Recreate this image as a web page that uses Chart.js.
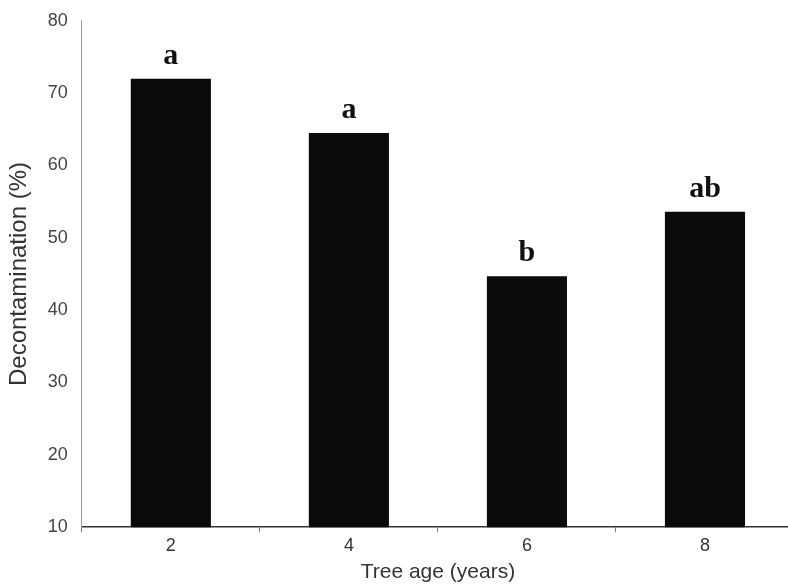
<!DOCTYPE html>
<html>
<head>
<meta charset="utf-8">
<script src="https://cdn.jsdelivr.net/npm/chart.js@4.4.0/dist/chart.umd.min.js"></script>
<style>
  html, body { margin: 0; padding: 0; background: #fff; overflow: hidden; }
  #wrap { width: 794px; height: 592px; position: relative; top: -4px; }
</style>
</head>
<body>
<div id="wrap"><canvas id="myChart" width="794" height="592"></canvas></div>
<script>
var treeAges = ['2', '4', '6', '8'];
var decontamination = [72, 64.5, 44.7, 53.6];
var letters = ['a', 'a', 'b', 'ab'];
var yTicks = [10, 20, 30, 40, 50, 60, 70, 80];

// draws the significance letters above each bar
var letterPlugin = {
    id: 'letters',
    afterDatasetsDraw: function (chart) {
        var ctx = chart.ctx;
        var meta = chart.getDatasetMeta(0);
        ctx.save();
        ctx.font = 'bold 30px "Liberation Serif", "Times New Roman", serif';
        ctx.fillStyle = '#111';
        ctx.textAlign = 'center';
        ctx.textBaseline = 'alphabetic';
        meta.data.forEach(function (bar, i) {
            ctx.fillText(letters[i], bar.x, bar.y - 15);
        });
        ctx.restore();
    }
};

var ctx = document.getElementById('myChart').getContext('2d');
var myChart = new Chart(ctx, {
    type: 'bar',
    data: {
        labels: treeAges,
        datasets: [{
            data: decontamination,
            backgroundColor: '#0b0b0b',
            borderWidth: 0,
            categoryPercentage: 1,
            barPercentage: 0.45
        }]
    },
    options: {
        responsive: false,
        animation: false,
        devicePixelRatio: 1,
        layout: { padding: { top: 4, right: 0, bottom: 0, left: 5 } },
        plugins: {
            legend: { display: false },
            tooltip: { enabled: false }
        },
        scales: {
            x: {
                grid: {
                    display: true,
                    drawOnChartArea: false,
                    drawTicks: true,
                    tickLength: 5,
                    color: '#777',
                    offset: true
                },
                border: { display: true, color: '#333', width: 1.5 },
                ticks: {
                    color: '#333',
                    padding: 3,
                    font: { family: '"Liberation Sans", Arial, sans-serif', size: 18 }
                },
                title: {
                    display: true,
                    text: 'Tree age (years)',
                    color: '#333',
                    padding: { top: 0, bottom: 3 },
                    font: { family: '"Liberation Sans", Arial, sans-serif', size: 21 }
                }
            },
            y: {
                min: 10,
                max: 80,
                afterBuildTicks: function (axis) {
                    axis.ticks = yTicks.map(function (v) { return { value: v }; });
                },
                grid: { display: false, drawTicks: false },
                border: { display: true, color: '#999', width: 1, dash: [3, 4] },
                ticks: {
                    color: '#444',
                    padding: 14,
                    font: { family: '"Liberation Sans", Arial, sans-serif', size: 18 }
                },
                title: {
                    display: true,
                    text: 'Decontamination (%)',
                    color: '#333',
                    padding: { top: 0, bottom: 0 },
                    font: { family: '"Liberation Sans", Arial, sans-serif', size: 24 }
                }
            }
        }
    },
    plugins: [letterPlugin]
});
</script>
</body>
</html>
